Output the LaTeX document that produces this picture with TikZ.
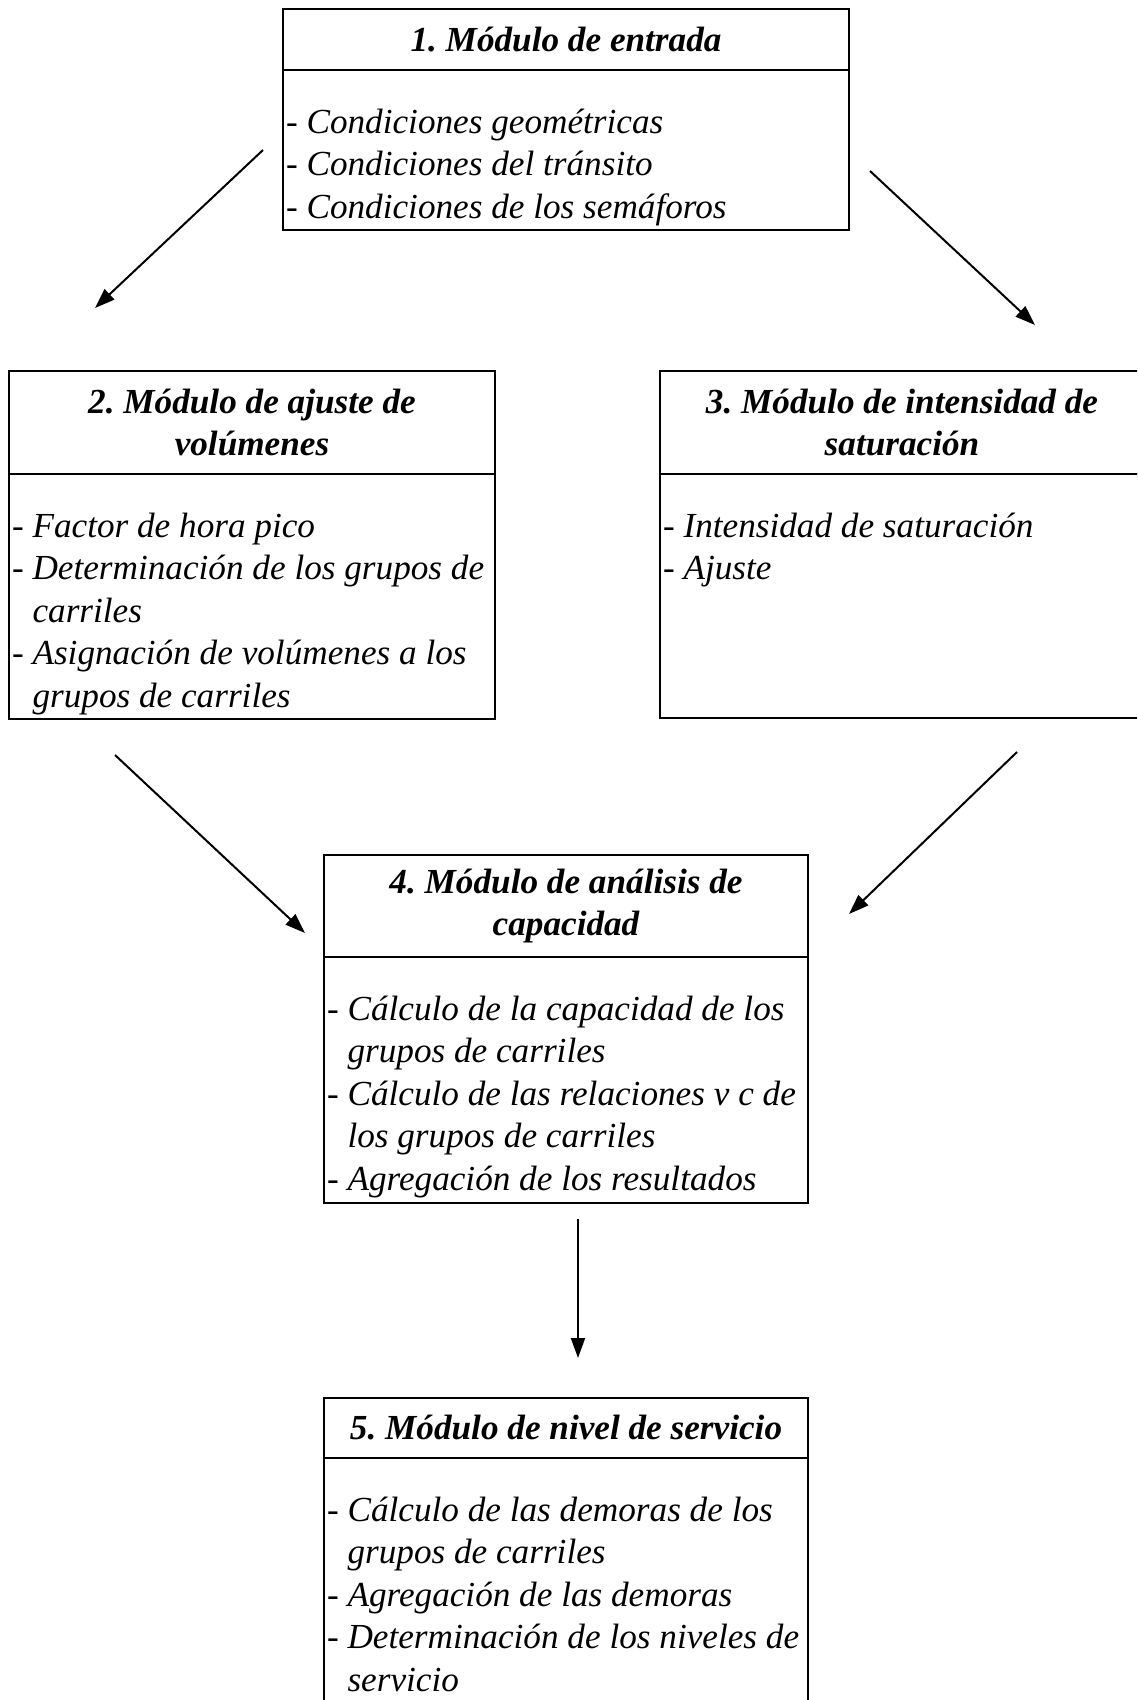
\documentclass[tikz,border=0pt]{standalone}
\usepackage{fontspec}
\setmainfont{Liberation Serif}
\usetikzlibrary{arrows.meta,positioning}
\newcommand{\modfont}{\fontsize{17.6pt}{21.25pt}\selectfont\itshape\frenchspacing}

\begin{document}
\begin{tikzpicture}[x=0.5pt, y=-0.5pt, >={Triangle[length=10pt,width=7pt]}, line width=1pt,
  every node/.style={font=\modfont},
  head/.style={draw, line width=1.2pt, inner sep=0pt, outer sep=0pt, align=center, font=\modfont\bfseries},
  body/.style={draw, line width=1.2pt, inner sep=0pt, outer sep=0pt},
  items/.style={inner sep=0pt, align=left, anchor=north west}]
\useasboundingbox (0,0) rectangle (1137,1700);
\clip (0,0) rectangle (1137,1700);

\node[head, anchor=north west, minimum width=283pt, minimum height=30.5pt] (h1) at (283,9) {1. Módulo de entrada};
\node[body, below=0pt of h1, minimum width=283pt, minimum height=80pt] (b1) {};
\node[items, below right=19pt and 1pt of b1.north west] (t1) {- Condiciones geométricas\\- Condiciones del tránsito\\- Condiciones de los semáforos};

\node[head, anchor=north west, minimum width=243pt, minimum height=51.5pt] (h2) at (9,371) {2. Módulo de ajuste de\\volúmenes};
\node[body, below=0pt of h2, minimum width=243pt, minimum height=122.5pt] (b2) {};
\node[items, below right=19pt and 1pt of b2.north west] (t2) {- Factor de hora pico\\- Determinación de los grupos de\\\hphantom{- }carriles\\- Asignación de volúmenes a los\\\hphantom{- }grupos de carriles};

\node[head, anchor=north west, minimum width=242pt, minimum height=51.5pt] (h3) at (660,371) {3. Módulo de intensidad de\\saturación};
\node[body, below=0pt of h3, minimum width=242pt, minimum height=122pt] (b3) {};
\node[items, below right=19pt and 1pt of b3.north west] (t3) {- Intensidad de saturación\\- Ajuste};

\node[head, anchor=north west, minimum width=242pt, minimum height=51pt] (h4) at (324,855) {4. Módulo de análisis de\\capacidad};
\node[body, below=0pt of h4, minimum width=242pt, minimum height=123pt] (b4) {};
\node[items, below right=19pt and 1pt of b4.north west] (t4) {- Cálculo de la capacidad de los\\\hphantom{- }grupos de carriles\\- Cálculo de las relaciones v c de\\\hphantom{- }los grupos de carriles\\- Agregación de los resultados};

\node[head, anchor=north west, minimum width=242pt, minimum height=30pt] (h5) at (324,1398) {5. Módulo de nivel de servicio};
\node[body, below=0pt of h5, minimum width=242pt, minimum height=135pt] (b5) {};
\node[items, below right=19pt and 1pt of b5.north west] (t5) {- Cálculo de las demoras de los\\\hphantom{- }grupos de carriles\\- Agregación de las demoras\\- Determinación de los niveles de\\\hphantom{- }servicio};

\coordinate (a1s) at (263,150);
\coordinate (a1e) at (95,308);
\coordinate (a2s) at (870,171);
\coordinate (a2e) at (1035,325);
\coordinate (a3s) at (115,755);
\coordinate (a3e) at (305,933);
\coordinate (a4s) at (1017,752);
\coordinate (a4e) at (849,914);
\coordinate (a5s) at (578,1219);
\coordinate (a5e) at (578,1358);
\draw[->] (a1s) -- (a1e);
\draw[->] (a2s) -- (a2e);
\draw[->] (a3s) -- (a3e);
\draw[->] (a4s) -- (a4e);
\draw[->] (a5s) -- (a5e);
\end{tikzpicture}
\end{document}
